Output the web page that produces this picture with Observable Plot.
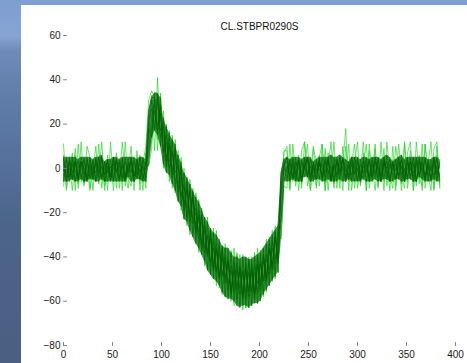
<!DOCTYPE html>
<html>
<head>
<meta charset="utf-8">
<script src="https://cdn.jsdelivr.net/npm/d3@7"></script>
<script src="https://cdn.jsdelivr.net/npm/@observablehq/plot@0.6"></script>
<style>
  html, body { margin: 0; padding: 0; width: 467px; height: 363px; overflow: hidden; }
  body { position: relative; background: #7f9fd0; font-family: "Liberation Sans", Arial, sans-serif; }
  #left { position: absolute; left: 0; top: 0; width: 21px; height: 363px;
    background: linear-gradient(to bottom, #7f9fd0 0%, #86a3d3 10%, #6e8bb9 14%, #5f7ba8 28%, #55709b 45%, #4c6489 62%, #4a5f82 100%); }
  #top { position: absolute; left: 0; top: 0; width: 467px; height: 5px; background: #7f9fd0; }
  #panel { position: absolute; left: 21px; top: 5px; width: 446px; height: 358px; background: #fff; }
  #chart { position: absolute; left: 0; top: 0; }
</style>
</head>
<body>
<div id="left"></div><div id="top"></div><div id="panel"></div>
<div id="chart"></div>
<script>
const title = "CL.STBPR0290S";
const xTicks = [0, 50, 100, 150, 200, 250, 300, 350, 400];
const yTicks = [-80, -60, -40, -20, 0, 20, 40, 60];
// sample positions (every 3 units, 0..384)
const sampleX = d3.range(0, 385, 3);

// dark series
const s1 = [2,-4,3,-5,1,4,-3,-6,2,0,-5,3,-2,4,-6,1,-3,5,-1,-5,2,-4,3,0,-6,4,-2,1,-4,
  22,27,17,32,14,19,5,11,-4,3,2,-12,-7,-22,-10,-23,-18,-32,-21,-36,-31,-44,-33,-46,-35,-49,-40,-55,-44,-53,
  -43,-57,-47,-59,-42,-56,-47,-56,-42,-50,-39,-48,-33,-41,-32,-6,2,
  3,-5,2,-3,4,-6,1,5,-4,0,-2,4,-5,3,-1,-6,2,5,-3,1,-4,3,-6,2,4,-2,-5,1,3,-4,5,-1,-6,2,0,4,-3,-5,3,1,-2,5,-4,2,-6,3,-1,4,-3,0,2,-5,3];
const s2 = [-3,1,-6,4,-1,-5,3,0,-4,5,-2,2,-6,1,-3,4,-5,0,3,-4,1,-6,2,-2,5,-3,0,-5,2,
  8,24,29,19,28,7,15,3,8,-6,-7,1,-17,-9,-24,-14,-27,-19,-34,-26,-40,-32,-43,-34,-50,-40,-51,-41,-55,-46,
  -55,-44,-57,-46,-55,-43,-57,-43,-53,-39,-50,-37,-44,-32,-41,-23,-5,
  -4,2,0,-6,3,-2,5,-3,1,-5,4,-1,2,-4,5,-6,0,3,-2,4,-5,1,-3,5,-1,-6,3,0,-4,2,-2,4,-5,1,3,-6,2,-1,5,-3,0,-4,3,-6,1,4,-2,-5,2,-1,5,-3,1];
const s3 = [4,-2,0,-5,3,-4,5,-1,-6,2,-3,4,0,-5,3,-2,1,-6,4,-1,-4,3,-2,5,-5,0,2,-3,-6,
  18,14,31,29,17,21,3,14,-1,7,-11,-4,-16,-6,-21,-11,-29,-22,-36,-24,-38,-29,-45,-37,-49,-36,-49,-42,-56,-42,
  -53,-47,-59,-45,-58,-47,-56,-40,-51,-42,-51,-36,-45,-29,-43,-30,-6,
  1,-3,5,-2,-6,3,0,-4,4,-1,-5,2,-3,5,-2,1,-6,3,-1,4,0,-5,2,-3,5,-4,1,-2,4,-6,3,0,-3,5,-5,2,-1,4,-4,1,-6,3,0,-2,5,-3,2,-5,4,-1,-3,1,-4];
const s4 = [-1,5,-4,2,-6,0,3,-3,4,-5,1,-2,5,-4,0,3,-6,2,-1,4,-3,-5,1,3,-2,-4,5,-1,0,
  2,19,26,17,25,8,12,0,7,-2,1,-13,-8,-18,-11,-25,-20,-29,-24,-38,-30,-42,-36,-47,-38,-48,-42,-52,-46,-56,
  -46,-54,-46,-56,-47,-55,-44,-52,-43,-51,-41,-46,-36,-43,-33,-12,0,
  -2,4,-5,1,3,-4,0,5,-6,2,-1,3,-4,0,4,-5,2,-3,5,-1,-6,1,4,-2,0,-5,3,2,-4,5,-3,1,-6,4,-2,0,3,-5,1,4,-4,2,-1,5,-6,0,3,-3,1,-5,4,-2,2];
const s5 = [0,-6,5,-2,3,-4,1,4,-5,-1,3,-6,2,5,-3,0,-5,4,-2,1,5,-6,-1,3,-4,2,-5,4,1,
  16,31,18,34,22,15,1,10,-3,9,-9,-1,-19,-10,-22,-13,-29,-21,-37,-28,-39,-28,-46,-36,-49,-37,-52,-43,-57,-45,
  -59,-45,-58,-43,-56,-45,-59,-44,-55,-40,-49,-34,-46,-31,-41,-4,1,
  5,-1,-4,3,0,-6,2,4,-3,1,-5,3,0,-2,5,-4,1,-6,2,4,-1,-3,5,0,-5,2,-2,4,-6,1,3,-4,0,5,-2,-5,2,1,-3,4,-6,0,3,-4,2,5,-1,-3,1,-6,2,4,-5];
const s9 = [5,-6,4,-5,5,-6,3,-6,5,-4,4,-6,5,-5,3,-6,4,-5,5,-6,4,-4,5,-6,3,-5,5,-6,4,
  26,32,32,15,32,2,19,-3,13,-10,6,-17,-2,-24,-7,-31,-13,-36,-18,-42,-24,-48,-29,-51,-32,-56,-36,-59,-38,-60,
  -40,-63,-40,-62,-41,-62,-40,-61,-38,-57,-34,-53,-30,-49,-26,-24,2,
  5,-6,4,-5,5,-6,4,-4,5,-6,3,-5,5,-6,4,-5,5,-4,6,-6,4,-5,5,-6,3,-5,5,-6,4,-4,5,-6,4,-5,6,-6,3,-5,5,-6,4,-5,5,-6,4,-4,5,-6,3,-5,5,-6,4];
const s10 = [-6,4,-5,5,-6,3,-5,5,-6,4,-5,5,-4,6,-6,4,-5,5,-6,3,-6,5,-4,5,-6,4,-5,5,-6,
  4,13,34,33,10,23,-2,16,-7,11,-15,3,-23,-4,-28,-10,-34,-15,-39,-22,-46,-27,-50,-30,-53,-35,-58,-36,-59,-40,
  -62,-41,-62,-40,-63,-41,-61,-39,-60,-36,-55,-32,-51,-28,-47,-2,4,
  -6,4,-5,5,-6,4,-4,5,-6,3,-5,5,-6,4,-5,6,-6,4,-5,5,-6,3,-5,5,-6,4,-4,5,-6,4,-5,5,-6,3,-5,5,-6,4,-5,6,-6,4,-5,5,-6,3,-5,5,-6,4,-5,5,-6];
// light series
const s6 = [11,-9,3,-10,6,-7,12,-8,1,-10,4,-5,11,-9,2,-10,12,-6,4,-9,3,-8,-2,10,-10,5,-7,3,-9,
  24,33,8,41,10,26,0,17,-9,13,-14,5,-22,-5,-30,-9,-33,-14,-38,-22,-46,-28,-49,-28,-54,-35,-58,-38,-60,-36,
  -60,-39,-64,-41,-63,-40,-59,-36,-59,-36,-56,-31,-50,-26,-47,-8,7,
  10,-9,4,-8,5,-7,1,11,-10,3,-8,6,-5,9,-10,3,-9,4,-6,2,18,-10,4,-9,3,-7,2,11,-9,1,-10,5,-4,9,-8,1,4,-10,5,-7,12,-9,3,2,-8,6,-10,11,-5,2,-9,10,-7];
const s7 = [-8,4,-3,7,-10,11,-6,2,5,-9,-1,10,-7,3,-10,6,-4,5,-9,3,-10,12,-5,-8,4,-3,6,-10,7,
  1,9,34,13,33,1,19,-6,14,-9,8,-17,0,-26,-7,-29,-11,-37,-19,-44,-25,-48,-27,-51,-34,-57,-36,-58,-37,-59,
  -39,-61,-39,-63,-40,-61,-38,-58,-37,-58,-35,-52,-28,-47,-26,-32,-8,
  -9,11,-6,3,-10,8,12,-8,-2,10,-9,5,11,-10,0,12,-7,4,-9,10,-5,11,-10,2,12,-8,7,-10,11,-4,9,-9,12,-6,3,-10,10,-8,11,-3,-9,7,12,-10,4,-7,11,-9,2,12,-10,6,-8];
const s8 = [6,-10,3,-4,9,-9,2,-7,10,5,-10,4,-3,12,-8,-1,3,-10,7,-5,12,-2,-9,4,-6,8,-10,2,10,
  31,35,32,8,34,0,20,-4,15,-11,6,-19,-2,-25,-5,-30,-12,-38,-20,-43,-22,-47,-28,-53,-33,-56,-34,-57,-38,-62,
  -38,-62,-42,-63,-41,-62,-41,-61,-38,-57,-32,-53,-30,-50,-25,-9,8,
  8,-10,11,-4,6,-9,12,-2,-10,9,3,-8,11,-10,7,-3,12,-9,5,-10,10,-6,2,11,-9,-1,12,-10,8,-5,11,-8,4,-10,12,-3,-9,10,1,-10,11,-6,8,-10,12,-4,-8,11,-2,-10,9,12,-9];

const darkSeries = {s1, s2, s3, s4, s5, s9, s10};
const lightSeries = {s6, s7, s8};
function toRows(obj) {
  return Object.entries(obj).flatMap(([name, vals]) => vals.map((v, i) => ({x: sampleX[i], y: v, name})));
}
const darkRows = toRows(darkSeries);
const lightRows = toRows(lightSeries);
// envelope of the dark series (dense core band)
const darkVals = Object.values(darkSeries);
const core = sampleX.map((x, i) => ({x, lo: d3.min(darkVals, s => s[i]), hi: d3.max(darkVals, s => s[i])}));

const tickShape = {draw(context, l) { context.moveTo(0, 0); context.lineTo(0, -l); }};

const chart = Plot.plot({
  width: 467,
  height: 363,
  marginLeft: 63,
  marginRight: 12,
  marginTop: 35,
  marginBottom: 18,
  x: {domain: [0, 400]},
  y: {domain: [-80, 60]},
  style: {background: "transparent", fontFamily: "'Liberation Sans', Arial, sans-serif", fontSize: "10px", color: "#222"},
  marks: [
    Plot.lineY(lightRows, {x: "x", y: "y", z: "name", stroke: "#22d622", strokeWidth: 0.9, strokeOpacity: 0.75}),
    Plot.areaY(core, {x: "x", y1: "lo", y2: "hi", fill: "#14801a", fillOpacity: 0.8}),
    Plot.lineY(darkRows, {x: "x", y: "y", z: "name", stroke: "#005c00", strokeWidth: 0.8, strokeOpacity: 0.65}),
    Plot.axisX({ticks: xTicks, tickSize: 0, tickPadding: 5, stroke: "#808080", fill: "#222", line: true, label: null}),
    Plot.axisY({ticks: yTicks, tickSize: 0, tickPadding: 3, stroke: "#808080", fill: "#222", line: true, label: null}),
    Plot.vector(xTicks, {x: d => d, frameAnchor: "bottom", length: 3, rotate: 0, anchor: "start", shape: tickShape, stroke: "#808080", strokeWidth: 1}),
    Plot.vector(yTicks, {y: d => d, frameAnchor: "left", length: 3, rotate: 90, anchor: "start", shape: tickShape, stroke: "#808080", strokeWidth: 1}),
    Plot.text([title], {frameAnchor: "top", dy: -13, fontSize: 10, fill: "#111"})
  ]
});
document.getElementById("chart").appendChild(chart);
</script>
</body>
</html>
